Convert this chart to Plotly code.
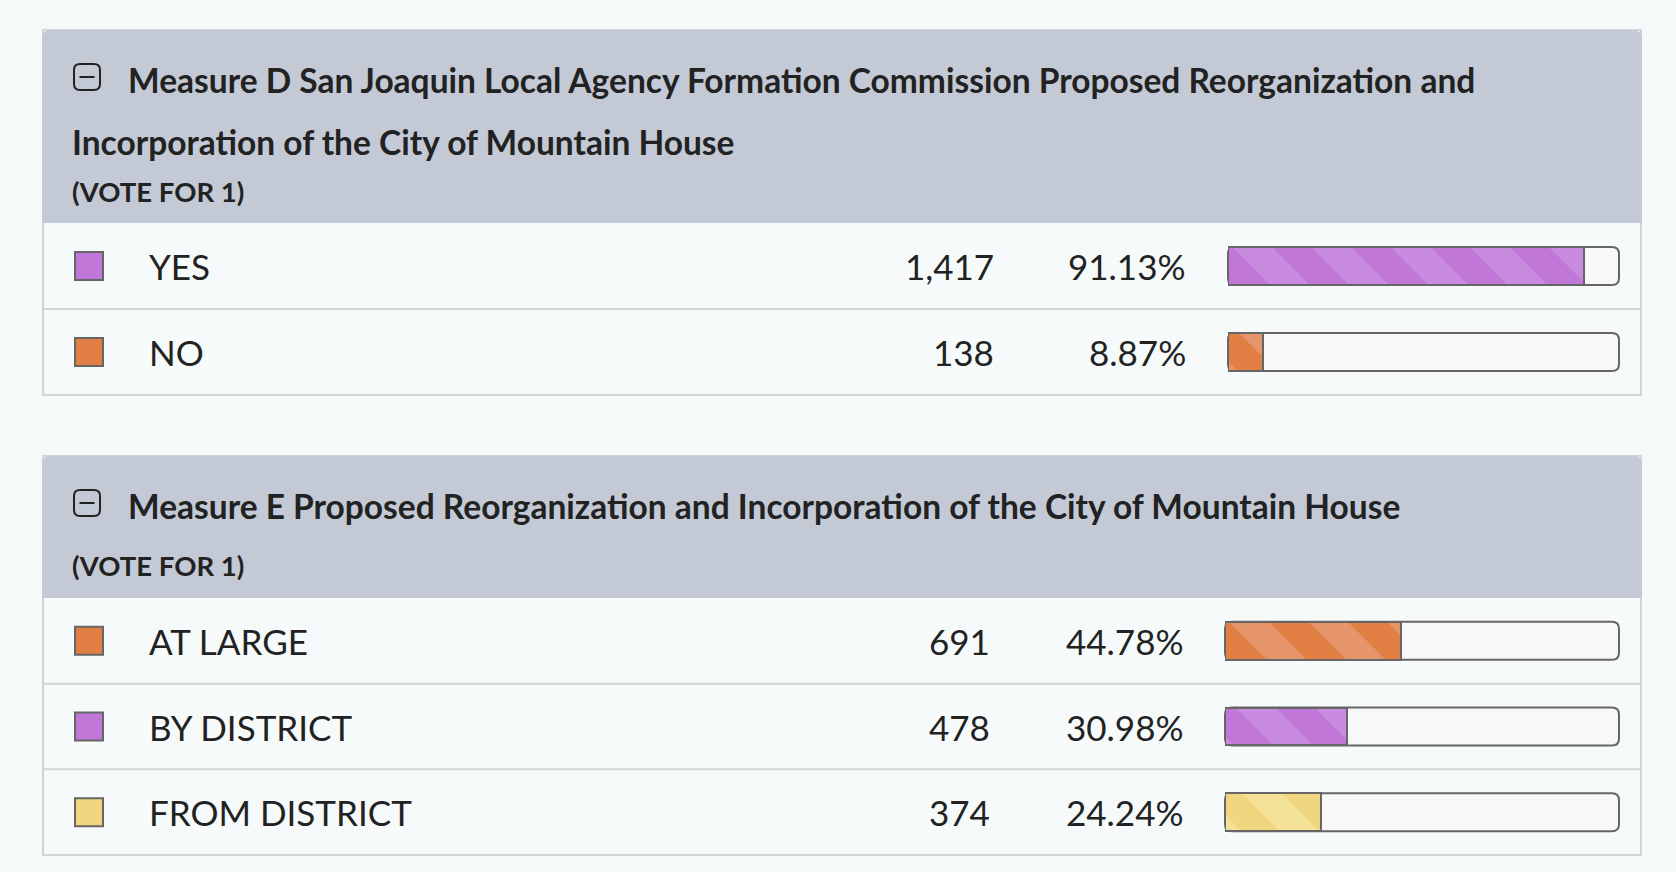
import plotly.graph_objects as go

W, H = 1676, 872

# ---- data ----
d_title = [
    "Measure D San Joaquin Local Agency Formation Commission Proposed Reorganization and",
    "Incorporation of the City of Mountain House",
]
d_choices = ["YES", "NO"]
d_votes = [1417, 138]
d_pcts = [91.13, 8.87]
d_colors = ["purple", "orange"]

e_title = ["Measure E Proposed Reorganization and Incorporation of the City of Mountain House"]
e_choices = ["AT LARGE", "BY DISTRICT", "FROM DISTRICT"]
e_votes = [691, 478, 374]
e_pcts = [44.78, 30.98, 24.24]
e_colors = ["orange", "purple", "yellow"]

vote_for = "(VOTE FOR 1)"

# base colour, lighter stripe colour
palette = {
    "purple": ("#C077D8", "#C98BDF"),
    "orange": ("#E17F45", "#E6956A"),
    "yellow": ("#F0D77F", "#F4E198"),
}

PAGE_BG = "#F5F9FA"
ROW_BG = "#F7FAFB"
HEAD_BG = "#C3CAD6"
RULE = "#D2D4D6"
TEXT = "#222222"
BORDER = "#666666"

# layout in screen pixels (top-left origin)
cards = [
    dict(title=d_title, choices=d_choices, votes=d_votes, pcts=d_pcts, colors=d_colors,
         top=30, head_bottom=223, bottom=395, icon_y=77,
         title_y=[80, 142], vote_y=191, count_x=996, pct_x=1188, bar_left=1228),
    dict(title=e_title, choices=e_choices, votes=e_votes, pcts=e_pcts, colors=e_colors,
         top=456, head_bottom=598, bottom=855, icon_y=503,
         title_y=[506], vote_y=565, count_x=992, pct_x=1186, bar_left=1225),
]
CARD_L, CARD_R = 43, 1641
BAR_R = 1619
SWATCH_X = 89
LABEL_X = 147


def px(x):
    return x / W


def py(y):
    return 1 - y / H


def rounded_rect(x0, y0, x1, y1, r, top_only=False):
    # path in paper coords from pixel box
    X = lambda v: px(v)
    Y = lambda v: py(v)
    if top_only:
        return (f"M{X(x0)},{Y(y1)} L{X(x0)},{Y(y0 + r)} Q{X(x0)},{Y(y0)} {X(x0 + r)},{Y(y0)} "
                f"L{X(x1 - r)},{Y(y0)} Q{X(x1)},{Y(y0)} {X(x1)},{Y(y0 + r)} L{X(x1)},{Y(y1)} Z")
    return (f"M{X(x0 + r)},{Y(y0)} L{X(x1 - r)},{Y(y0)} Q{X(x1)},{Y(y0)} {X(x1)},{Y(y0 + r)} "
            f"L{X(x1)},{Y(y1 - r)} Q{X(x1)},{Y(y1)} {X(x1 - r)},{Y(y1)} "
            f"L{X(x0 + r)},{Y(y1)} Q{X(x0)},{Y(y1)} {X(x0)},{Y(y1 - r)} "
            f"L{X(x0)},{Y(y0 + r)} Q{X(x0)},{Y(y0)} {X(x0 + r)},{Y(y0)} Z")


fig = go.Figure()
shapes = []
annotations = []
layout_axes = {}

for i, c in enumerate(cards):
    n = len(c["choices"])
    row_h = (c["bottom"] - c["head_bottom"]) / n
    bx = "x" if i == 0 else f"x{2 * i + 1}"
    sx = f"x{2 * i + 2}"
    ya = "y" if i == 0 else f"y{i + 1}"

    # axes
    layout_axes["xaxis" if i == 0 else f"xaxis{2 * i + 1}"] = dict(
        domain=[px(c["bar_left"]), px(BAR_R)], range=[0, 100], visible=False,
        anchor=ya, fixedrange=True)
    layout_axes[f"xaxis{2 * i + 2}"] = dict(
        domain=[0, 1], range=[0, W], visible=False, anchor=ya, fixedrange=True)
    layout_axes["yaxis" if i == 0 else f"yaxis{i + 1}"] = dict(
        domain=[py(c["bottom"]), py(c["head_bottom"])], type="category",
        categoryorder="array", categoryarray=c["choices"],
        range=[n - 0.5, -0.5], visible=False, anchor=bx, fixedrange=True)

    # card body, header, rules
    shapes.append(dict(type="rect", xref="paper", yref="paper", layer="below",
                       x0=px(CARD_L), x1=px(CARD_R), y0=py(c["bottom"]), y1=py(c["top"]),
                       fillcolor=ROW_BG, line=dict(color=RULE, width=2)))
    shapes.append(dict(type="path", xref="paper", yref="paper", layer="below",
                       path=rounded_rect(CARD_L - 1, c["top"], CARD_R + 1, c["head_bottom"], 9, True),
                       fillcolor=HEAD_BG, line=dict(width=0)))
    for k in range(1, n):
        yk = c["head_bottom"] + k * row_h
        shapes.append(dict(type="line", xref="paper", yref="paper", layer="below",
                           x0=px(CARD_L), x1=px(CARD_R), y0=py(yk), y1=py(yk),
                           line=dict(color=RULE, width=2)))

    # collapse icon
    iy = c["icon_y"]
    shapes.append(dict(type="path", xref="paper", yref="paper",
                       path=rounded_rect(74, iy - 13, 100, iy + 13, 6),
                       line=dict(color=TEXT, width=2), fillcolor="rgba(0,0,0,0)"))
    shapes.append(dict(type="line", xref="paper", yref="paper",
                       x0=px(79.5), x1=px(94.5), y0=py(iy), y1=py(iy),
                       line=dict(color=TEXT, width=2)))

    # bar tracks
    for k in range(n):
        yc = c["head_bottom"] + (k + 0.5) * row_h
        shapes.append(dict(type="path", xref="paper", yref="paper", layer="below",
                           path=rounded_rect(c["bar_left"], yc - 19, BAR_R, yc + 19, 7),
                           fillcolor="#F8F8F8", line=dict(color=BORDER, width=2)))

    # titles
    for j, line in enumerate(c["title"]):
        annotations.append(dict(text=line, xref="paper", yref="paper",
                                x=px(126 if j == 0 else 70), y=py(c["title_y"][j]),
                                xanchor="left", yanchor="middle", showarrow=False,
                                font=dict(family="Lato", size=33.5, color=TEXT, weight=700)))
    annotations.append(dict(text=vote_for, xref="paper", yref="paper",
                            x=px(70), y=py(c["vote_y"]), xanchor="left", yanchor="middle",
                            showarrow=False,
                            font=dict(family="Lato", size=27.5, color=TEXT, weight=700)))

    base = [palette[k][0] for k in c["colors"]]

    # swatches
    fig.add_trace(go.Scatter(
        x=[SWATCH_X] * n, y=c["choices"], xaxis=sx, yaxis=ya, mode="markers",
        marker=dict(symbol="square", size=28, color=base, line=dict(color=BORDER, width=2)),
        hoverinfo="skip", showlegend=False))

    # result bars, one trace per choice so each gets its own stripe colours
    for name, p, col in zip(c["choices"], c["pcts"], c["colors"]):
        dark, light = palette[col]
        fig.add_trace(go.Bar(
            x=[p], y=[name], orientation="h", xaxis=bx, yaxis=ya, width=0.44,
            marker=dict(color=dark, line=dict(color=BORDER, width=2),
                        pattern=dict(shape="\\", fillmode="replace", bgcolor=dark,
                                     fgcolor=light, fgopacity=1, size=56, solidity=0.5)),
            hovertemplate="%{y}: %{x:.2f}%<extra></extra>", showlegend=False))

    # row texts
    for name, v, p in zip(c["choices"], c["votes"], c["pcts"]):
        fnt = dict(family="Lato", size=35, color=TEXT)
        annotations.append(dict(text=name, xref="paper", yref=ya, x=px(LABEL_X), y=name,
                                xanchor="left", yanchor="middle", showarrow=False, font=fnt))
        annotations.append(dict(text=f"{v:,}", xref="paper", yref=ya, x=px(c["count_x"]), y=name,
                                xanchor="right", yanchor="middle", showarrow=False, font=fnt))
        annotations.append(dict(text=f"{p:.2f}%", xref="paper", yref=ya, x=px(c["pct_x"]), y=name,
                                xanchor="right", yanchor="middle", showarrow=False, font=fnt))

fig.update_layout(
    width=W, height=H, autosize=False,
    margin=dict(l=0, r=0, t=0, b=0, pad=0),
    paper_bgcolor=PAGE_BG, plot_bgcolor="rgba(0,0,0,0)",
    barmode="overlay", bargap=0,
    shapes=shapes, annotations=annotations,
    **layout_axes,
)

fig.write_html("out.html", config={"displayModeBar": False},
               post_script="document.body.style.margin='0';document.body.style.overflow='hidden';")
